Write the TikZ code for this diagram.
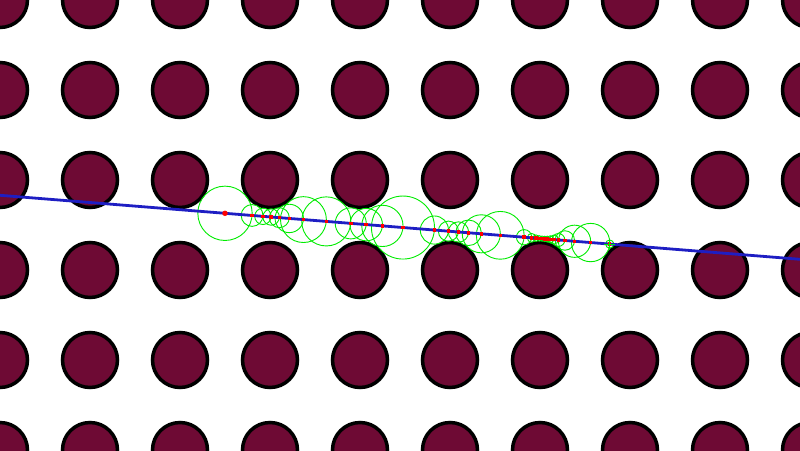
\documentclass[tikz,border=0pt]{standalone}
\usetikzlibrary{positioning}

\definecolor{obsfill}{RGB}{110,10,52}
\definecolor{raycol}{RGB}{30,30,195}
\definecolor{probecol}{RGB}{0,235,0}

\tikzset{
  obstacle/.style={draw=black,line width=3.5pt,fill=obsfill},
  probe/.style={draw=probecol,line width=0.9pt},
  raybeam/.style={draw=raycol,line width=2.8pt},
  stepdot/.style={fill=red,inner sep=0pt,minimum size=3.5pt}
}

\begin{document}
\begin{tikzpicture}[x=1pt,y=-1pt]
\useasboundingbox (0,0) rectangle (800,450);
\clip (0,0) rectangle (800,450);
% grid of obstacles
\foreach \i in {0,...,9}
  \foreach \j in {0,...,5}
    \draw[obstacle] (90*\i,90*\j) circle[radius=27.5];
\coordinate (rayA) at (0,195.3);
\coordinate (rayB) at (800,259.3);
% marching steps
\xdef\rayx{225}\xdef\rayy{213.3}\xdef\mdone{0}\gdef\dotcmds{}
\foreach \k in {1,...,90}{
  \ifnum\mdone=0
    \pgfmathsetmacro\cx{90*round(\rayx/90)}
    \pgfmathsetmacro\cy{90*round(\rayy/90)}
    \pgfmathsetmacro\rr{veclen(\rayx-\cx,\rayy-\cy)-28.8}
    \draw[probe] (\rayx,\rayy) circle[radius=\rr];
    \pgfmathsetmacro\nx{\rayx+\rr*0.996815}
    \pgfmathsetmacro\ny{\rayy+\rr*0.079745}
    \xdef\dotcmds{\unexpanded\expandafter{\dotcmds}\noexpand\node[stepdot] at (\rayx,\rayy) {};}
    \ifdim\rayx pt>600pt \xdef\mdone{1}\xdef\endx{\rayx}\xdef\endy{\rayy}\fi
    \xdef\rayx{\nx}\xdef\rayy{\ny}
  \fi
}
\draw[raybeam] (rayA) -- (rayB);
\dotcmds
\node[fill=red,circle,inner sep=0pt,minimum size=5.5pt] (start) at (225,213.3) {};
\coordinate (stop) at (\endx,\endy);
\draw[probe] ([xshift=-5.5pt]stop) -- ([xshift=5.5pt]stop)
  ([yshift=-5.5pt]stop) -- ([yshift=5.5pt]stop);
\end{tikzpicture}
\end{document}
